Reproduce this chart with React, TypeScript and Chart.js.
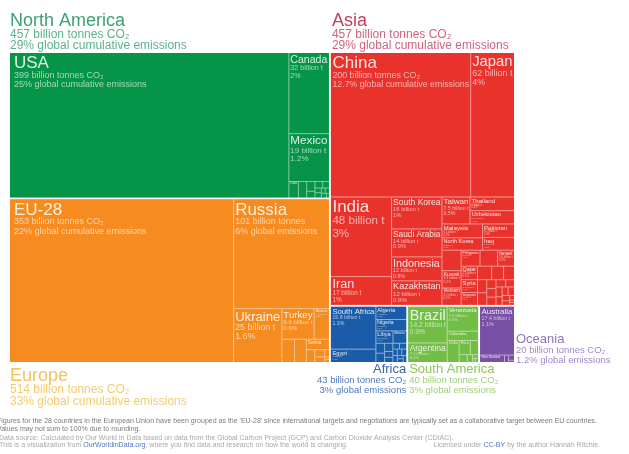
import React, { useEffect, useRef } from "react";
import { Chart, registerables } from "chart.js";

Chart.register(...registerables);

const FONT = '"Liberation Sans", Arial, Helvetica, sans-serif';
const GLOBAL_TOTAL = 1578;

// ---------- DATA ----------
const continentNames = ["North America", "Europe", "Asia", "Africa", "South America", "Oceania"];
const continentTotals = [457, 514, 457, 43, 40, 20];
const continentShares = ["29%", "33%", "29%", "3%", "3%", "1.2%"];

const naNames = ["USA", "Canada", "Mexico", "Cuba", "Trinidad and Tobago", "Dominican Republic", "Jamaica", "Guatemala", "Panama", "Honduras", "Costa Rica", "El Salvador", "Bahamas", "Nicaragua", "Haiti"];
const naValues = [399, 32, 19, 1.5, 1.3, 0.8, 0.5, 0.5, 0.4, 0.3, 0.3, 0.2, 0.2, 0.2, 0.1];
const naShares = ["25%", "2%", "1.2%"];

const euNames = ["EU-28", "Russia", "Ukraine", "Turkey", "Belarus", "Switzerland", "Norway", "Serbia", "Bosnia and Herzegovina", "Moldova", "Macedonia", "Albania", "Iceland", "Montenegro"];
const euValues = [353, 101, 25, 9.6, 4.4, 2.8, 2.6, 2.3, 1.0, 0.7, 0.5, 0.3, 0.1, 0.1];
const euShares = ["22%", "6%", "1.6%", "0.6%"];

const asNames = ["China", "Japan", "India", "Iran", "South Korea", "Saudi Arabia", "Indonesia", "Kazakhstan", "Taiwan", "Thailand", "Uzbekistan", "Malaysia", "North Korea", "Pakistan", "Iraq", "United Arab Emirates", "Kuwait", "Vietnam", "Philippines", "Turkmenistan", "Israel", "Qatar", "Syria", "Singapore", "Hong Kong", "Azerbaijan", "Bangladesh", "Oman", "Georgia", "Mongolia", "Bahrain", "Jordan", "Lebanon", "Myanmar", "Kyrgyzstan", "Armenia", "Sri Lanka", "Yemen", "Tajikistan", "Brunei", "Afghanistan", "Cambodia", "Nepal"];
const asValues = [200, 62, 48, 17, 16, 14, 12, 12, 7.5, 6.0, 5.8, 5.6, 5.0, 4.2, 4.0, 3.9, 3.3, 3.2, 3.0, 2.8, 2.6, 2.2, 2.1, 2.0, 1.9, 1.6, 1.4, 1.2, 1.1, 0.8, 0.8, 0.7, 0.7, 0.6, 0.6, 0.5, 0.5, 0.5, 0.4, 0.3, 0.2, 0.1, 0.1];
const asShares = ["12.7%", "4%", "3%", "1%", "1%", "0.9%", "0.8%", "0.8%", "0.5%"];

const afNames = ["South Africa", "Egypt", "Algeria", "Nigeria", "Libya", "Morocco", "Tunisia", "Zimbabwe", "Angola", "Kenya", "Ghana", "Sudan", "Côte d'Ivoire", "Zambia", "Tanzania", "Ethiopia", "Cameroon", "Congo", "Gabon", "Senegal"];
const afValues = [19.8, 6.0, 4.0, 3.6, 2.2, 1.7, 0.9, 0.8, 0.7, 0.5, 0.4, 0.4, 0.4, 0.3, 0.3, 0.3, 0.3, 0.2, 0.2, 0.2];
const afShares = ["1.3%", "0.4%", "0.3%", "0.2%"];

const saNames = ["Brazil", "Argentina", "Venezuela", "Colombia", "Chile", "Peru", "Ecuador", "Bolivia", "Uruguay", "Paraguay", "Guyana", "Suriname"];
const saValues = [14.2, 7.5, 7.6, 2.9, 2.6, 1.6, 1.1, 0.6, 0.4, 0.2, 0.1, 0.1];
const saShares = ["0.9%", "0.5%", "0.5%", "0.2%"];

const ocNames = ["Australia", "New Zealand", "Papua New Guinea", "New Caledonia", "Fiji"];
const ocValues = [17.4, 1.8, 0.3, 0.3, 0.1];
const ocShares = ["1.1%", "0.1%"];

const footer1 = "Figures for the 28 countries in the European Union have been grouped as the 'EU-28' since international targets and negotiations are typically set as a collaborative target between EU countries.";
const footer2 = "Values may not sum to 100% due to rounding.";
const footer3 = "Data source: Calculated by Our World in Data based on data from the Global Carbon Project (GCP) and Carbon Dioxide Analysis Center (CDIAC).";
const footer4a = "This is a visualization from ";
const footer4b = "OurWorldinData.org";
const footer4c = ", where you find data and research on how the world is changing.";
const licA = "Licensed under ";
const licB = "CC-BY";
const licC = " by the author Hannah Ritchie.";

// ---------- STYLES ----------
const fillColors = ["#069548", "#f68b1f", "#e9322b", "#1b5ca9", "#72bd45", "#7a4fa6"];
const titleColors = ["#3aa373", "#f3c25a", "#c2405f", "#3563ae", "#8cc65c", "#8f72c0"];
const subColors = ["#5bb38b", "#f5cb72", "#cf6380", "#5079bb", "#9ed077", "#a089c9"];

type R = { x: number; y: number; w: number; h: number };
const sum = (a: number[]) => a.reduce((s, v) => s + v, 0);

function splitH(r: R, vals: number[]): R[] {
  const t = sum(vals);
  let x = r.x;
  return vals.map((v) => {
    const w = (r.w * v) / t;
    const o = { x, y: r.y, w, h: r.h };
    x += w;
    return o;
  });
}
function splitV(r: R, vals: number[]): R[] {
  const t = sum(vals);
  let y = r.y;
  return vals.map((v) => {
    const h = (r.h * v) / t;
    const o = { x: r.x, y, w: r.w, h };
    y += h;
    return o;
  });
}
function worst(row: number[], side: number) {
  const s = sum(row);
  let m = 0;
  for (const a of row) {
    const r1 = (side * side * a) / (s * s);
    const r2 = (s * s) / (side * side * a);
    m = Math.max(m, r1, r2);
  }
  return m;
}
function squarify(r: R, vals: number[]): R[] {
  const total = sum(vals);
  let { x, y, w, h } = r;
  const scaled = vals.map((v) => (v * w * h) / total);
  const out: R[] = [];
  let i = 0;
  while (i < scaled.length) {
    const side = Math.min(w, h);
    let row = [scaled[i]];
    let j = i + 1;
    while (j < scaled.length) {
      const nr = [...row, scaled[j]];
      if (worst(nr, side) <= worst(row, side)) {
        row = nr;
        j++;
      } else break;
    }
    const s = sum(row);
    if (w >= h) {
      const cw = s / h;
      let yy = y;
      row.forEach((a) => {
        const rh = a / cw;
        out.push({ x, y: yy, w: cw, h: rh });
        yy += rh;
      });
      x += cw;
      w -= cw;
    } else {
      const rh = s / w;
      let xx = x;
      row.forEach((a) => {
        const rw = a / rh;
        out.push({ x: xx, y, w: rw, h: rh });
        xx += rw;
      });
      y += rh;
      h -= rh;
    }
    i = j;
  }
  return out;
}
const inset = (r: R, d: number): R => ({ x: r.x + d, y: r.y + d, w: r.w - 2 * d, h: r.h - 2 * d });

function fmtPct(v: number) {
  return ((v / GLOBAL_TOTAL) * 100).toFixed(1) + "%";
}
function cellLines(v: number, share?: string): [string, string] {
  const pct = share ?? fmtPct(v);
  if (v >= 150) return [`${v} billion tonnes CO₂`, `${pct} global cumulative emissions`];
  if (v >= 80) return [`${v} billion tonnes`, `${pct} global emissions`];
  return [`${v} billion t`, pct];
}

function cellLabel(ctx: CanvasRenderingContext2D, r: R, name: string, l2: string, l3: string) {
  const pad = r.w > 200 ? 4 : 1.5;
  const avail = r.w - pad * 2;
  if (avail < 5 || r.h < 4) return;
  let t = Math.min(17, r.h * 0.45);
  ctx.font = `${t}px ${FONT}`;
  const tw = ctx.measureText(name).width;
  if (tw > avail) t = (t * avail) / tw;
  if (t < 2.6) return;
  const long = l2.length > 14;
  let s = long ? t * 0.53 : t * 0.68;
  ctx.font = `${s}px ${FONT}`;
  const sw = Math.max(ctx.measureText(l2).width, ctx.measureText(l3).width);
  if (sw > avail) s = (s * avail) / sw;
  s = Math.min(s, (r.h - 2 - t * 0.95) / 2.2);
  const bx = r.x + pad;
  const b1 = r.y + t * 0.87 + 0.5;
  ctx.textAlign = "left";
  ctx.fillStyle = "rgba(255,255,255,0.86)";
  ctx.font = `${t}px ${FONT}`;
  ctx.fillText(name, bx, b1);
  if (s >= 2) {
    ctx.fillStyle = "rgba(255,255,255,0.62)";
    ctx.font = `${s}px ${FONT}`;
    const b2 = b1 + s * 1.05;
    const b3 = b2 + s * 1.05;
    ctx.fillText(l2, bx, b2);
    ctx.fillText(l3, bx, b3);
  }
}

function drawGroup(ctx: CanvasRenderingContext2D, cont: R, cells: R[], color: string, names: string[], values: number[], shares: string[]) {
  ctx.fillStyle = color;
  ctx.fillRect(cont.x, cont.y, cont.w, cont.h);
  ctx.fillStyle = "rgba(255,255,255,0.5)";
  ctx.fillRect(cont.x, cont.y, cont.w, cont.h);
  ctx.fillStyle = color;
  const e = 0.5;
  cells.forEach((c) => {
    const l = Math.abs(c.x - cont.x) < 0.3 ? 0 : e;
    const t = Math.abs(c.y - cont.y) < 0.3 ? 0 : e;
    const rr = Math.abs(c.x + c.w - (cont.x + cont.w)) < 0.3 ? 0 : e;
    const b = Math.abs(c.y + c.h - (cont.y + cont.h)) < 0.3 ? 0 : e;
    ctx.fillRect(c.x + l, c.y + t, c.w - l - rr, c.h - t - b);
  });
  cells.forEach((c, i) => {
    const [l2, l3] = cellLines(values[i], shares[i]);
    cellLabel(ctx, c, names[i], l2, l3);
  });
}

function groupLabel(ctx: CanvasRenderingContext2D, k: number, x: number, bases: number[], align: CanvasTextAlign, ts: number, ss: number) {
  const tot = continentTotals[k];
  const l2 = `${tot} billion tonnes CO₂`;
  const l3 = `${continentShares[k]} ${tot >= 100 ? "global cumulative emissions" : "global emissions"}`;
  ctx.textAlign = align;
  ctx.fillStyle = titleColors[k];
  ctx.font = `${ts}px ${FONT}`;
  ctx.fillText(continentNames[k], x, bases[0]);
  ctx.fillStyle = subColors[k];
  ctx.font = `${ss}px ${FONT}`;
  ctx.fillText(l2, x, bases[1]);
  ctx.fillText(l3, x, bases[2]);
}

const treemapPlugin = {
  id: "co2treemap",
  beforeDraw(chart: any) {
    const ctx = chart.ctx as CanvasRenderingContext2D;
    ctx.save();
    ctx.fillStyle = "#fff";
    ctx.fillRect(0, 0, chart.width, chart.height);
    ctx.restore();
  },
  afterDraw(chart: any) {
    const ctx = chart.ctx as CanvasRenderingContext2D;
    const xs = chart.scales.x;
    const ys = chart.scales.y;
    const x0 = xs.getPixelForValue(0);
    const x1 = xs.getPixelForValue(1);
    const y0 = ys.getPixelForValue(0);
    const y1 = ys.getPixelForValue(1);
    const root: R = { x: x0, y: y0, w: x1 - x0, h: y1 - y0 };
    const ct = continentTotals;
    ctx.save();
    ctx.textBaseline = "alphabetic";

    const [leftR, rightR] = splitH(root, [ct[0] + ct[1], ct[2] + ct[3] + ct[4] + ct[5]]);
    const [naR0, euR0] = splitV(leftR, [ct[0], ct[1]]);
    const [asR0, rowR] = splitV(rightR, [ct[2], ct[3] + ct[4] + ct[5]]);
    const [afR0, saR0, ocR0] = splitH(rowR, [ct[3], ct[4], ct[5]]);
    const naR = inset(naR0, 1), euR = inset(euR0, 1), asR = inset(asR0, 1);
    const afR = inset(afR0, 1), saR = inset(saR0, 1), ocR = inset(ocR0, 1);

    // North America
    {
      const v = naValues;
      const [usa, rest] = splitH(naR, [v[0], sum(v.slice(1))]);
      const [can, mex, small] = splitV(rest, [v[1], v[2], sum(v.slice(3))]);
      const cells = [usa, can, mex, ...squarify(small, v.slice(3))];
      drawGroup(ctx, naR, cells, fillColors[0], naNames, v, naShares);
    }
    // Europe
    {
      const v = euValues;
      const [eu, right] = splitH(euR, [v[0], sum(v.slice(1))]);
      const [rus, bot] = splitV(right, [v[1], sum(v.slice(2))]);
      const [ukr, br] = splitH(bot, [v[2], sum(v.slice(3))]);
      const [tb, oth] = splitV(br, [v[3] + v[4], sum(v.slice(5))]);
      const [tur, bel] = splitH(tb, [v[3], v[4]]);
      const cells = [eu, rus, ukr, tur, bel, ...squarify(oth, v.slice(5))];
      drawGroup(ctx, euR, cells, fillColors[1], euNames, v, euShares);
    }
    // Asia
    {
      const v = asValues;
      const [top, low] = splitV(asR, [v[0] + v[1], sum(v.slice(2))]);
      const [chn, jpn] = splitH(top, [v[0], v[1]]);
      const [c1, c2, c3] = splitH(low, [v[2] + v[3], v[4] + v[5] + v[6] + v[7], sum(v.slice(8))]);
      const [ind, irn] = splitV(c1, [v[2], v[3]]);
      const mids = splitV(c2, [v[4], v[5], v[6], v[7]]);
      const [r1, r2, r3] = splitV(c3, [v[8] + v[9] + v[10], v[11] + v[12] + v[13] + v[14], sum(v.slice(15))]);
      const [tw, tu] = splitH(r1, [v[8], v[9] + v[10]]);
      const [th, uz] = splitV(tu, [v[9], v[10]]);
      const [a, b] = splitH(r2, [v[11] + v[12], v[13] + v[14]]);
      const [my, nk] = splitV(a, [v[11], v[12]]);
      const [pk, iq] = splitV(b, [v[13], v[14]]);
      const cells = [chn, jpn, ind, irn, ...mids, tw, th, uz, my, nk, pk, iq, ...squarify(r3, v.slice(15))];
      drawGroup(ctx, asR, cells, fillColors[2], asNames, v, asShares);
    }
    // Africa
    {
      const v = afValues;
      const [l, r] = splitH(afR, [v[0] + v[1], sum(v.slice(2))]);
      const [za, eg] = splitV(l, [v[0], v[1]]);
      const [al, ng, oth] = splitV(r, [v[2], v[3], sum(v.slice(4))]);
      const cells = [za, eg, al, ng, ...squarify(oth, v.slice(4))];
      drawGroup(ctx, afR, cells, fillColors[3], afNames, v, afShares);
    }
    // South America
    {
      const v = saValues;
      const [l, r] = splitH(saR, [v[0] + v[1], sum(v.slice(2))]);
      const [brz, arg] = splitV(l, [v[0], v[1]]);
      const [ven, col, oth] = splitV(r, [v[2], v[3], sum(v.slice(4))]);
      const cells = [brz, arg, ven, col, ...squarify(oth, v.slice(4))];
      drawGroup(ctx, saR, cells, fillColors[4], saNames, v, saShares);
    }
    // Oceania
    {
      const v = ocValues;
      const [au, bot] = splitV(ocR, [v[0], sum(v.slice(1))]);
      const [nz, oth] = splitH(bot, [v[1], sum(v.slice(2))]);
      const cells = [au, nz, ...squarify(oth, v.slice(2))];
      drawGroup(ctx, ocR, cells, fillColors[5], ocNames, v, ocShares);
    }

    // continent labels
    groupLabel(ctx, 0, naR.x, [naR.y - 27, naR.y - 15, naR.y - 4], "left", 18, 12);
    groupLabel(ctx, 2, asR.x + 1, [asR.y - 27, asR.y - 15, asR.y - 4], "left", 18, 12);
    const eb = euR.y + euR.h;
    groupLabel(ctx, 1, euR.x, [eb + 19, eb + 31, eb + 43], "left", 18, 12);
    const ab = afR.y + afR.h;
    groupLabel(ctx, 3, afR.x + afR.w, [ab + 11, ab + 21, ab + 30.5], "right", 13, 9.5);
    groupLabel(ctx, 4, saR.x + 1, [ab + 11, ab + 21, ab + 30.5], "left", 13, 9.5);
    const ob = ocR.y + ocR.h;
    groupLabel(ctx, 5, ocR.x + ocR.w + 2, [ob - 19, ob - 9, ob + 0.5], "left", 13, 9.5);

    // footer
    ctx.textAlign = "left";
    ctx.font = `10px ${FONT}`;
    const fs = (10 * 601) / ctx.measureText(footer1).width;
    ctx.font = `${fs}px ${FONT}`;
    ctx.fillStyle = "#7a7a7a";
    ctx.fillText(footer1, -3, 423);
    ctx.fillText(footer2, -3, 430.5);
    ctx.fillStyle = "#a8a8a8";
    ctx.fillText(footer3, -1, 439.5);
    let fx = -1;
    ctx.fillText(footer4a, fx, 447);
    fx += ctx.measureText(footer4a).width;
    ctx.fillStyle = "#4a78c0";
    ctx.fillText(footer4b, fx, 447);
    fx += ctx.measureText(footer4b).width;
    ctx.fillStyle = "#a8a8a8";
    ctx.fillText(footer4c, fx, 447);
    const lw = ctx.measureText(licA + licB + licC).width;
    let lx = 600 - lw;
    ctx.fillText(licA, lx, 447);
    lx += ctx.measureText(licA).width;
    ctx.fillStyle = "#4a78c0";
    ctx.fillText(licB, lx, 447);
    lx += ctx.measureText(licB).width;
    ctx.fillStyle = "#a8a8a8";
    ctx.fillText(licC, lx, 447);
    ctx.restore();
  },
};

export default function App() {
  const ref = useRef<HTMLCanvasElement>(null);
  useEffect(() => {
    const chart = new Chart(ref.current as HTMLCanvasElement, {
      type: "scatter",
      data: { datasets: [{ data: [] }] },
      options: {
        animation: false,
        responsive: false,
        devicePixelRatio: 1,
        layout: { padding: { left: 9, top: 52, right: 114, bottom: 91 } },
        scales: {
          x: { type: "linear", min: 0, max: 1, display: false },
          y: { type: "linear", min: 0, max: 1, reverse: true, display: false },
        },
        plugins: { legend: { display: false }, tooltip: { enabled: false } },
      },
      plugins: [treemapPlugin as any],
    } as any);
    return () => chart.destroy();
  }, []);
  return (
    <div style={{ position: "absolute", left: 0, top: 0, width: 629, height: 454, background: "#fff" }}>
      <canvas ref={ref} width={629} height={454} style={{ display: "block" }} />
    </div>
  );
}
